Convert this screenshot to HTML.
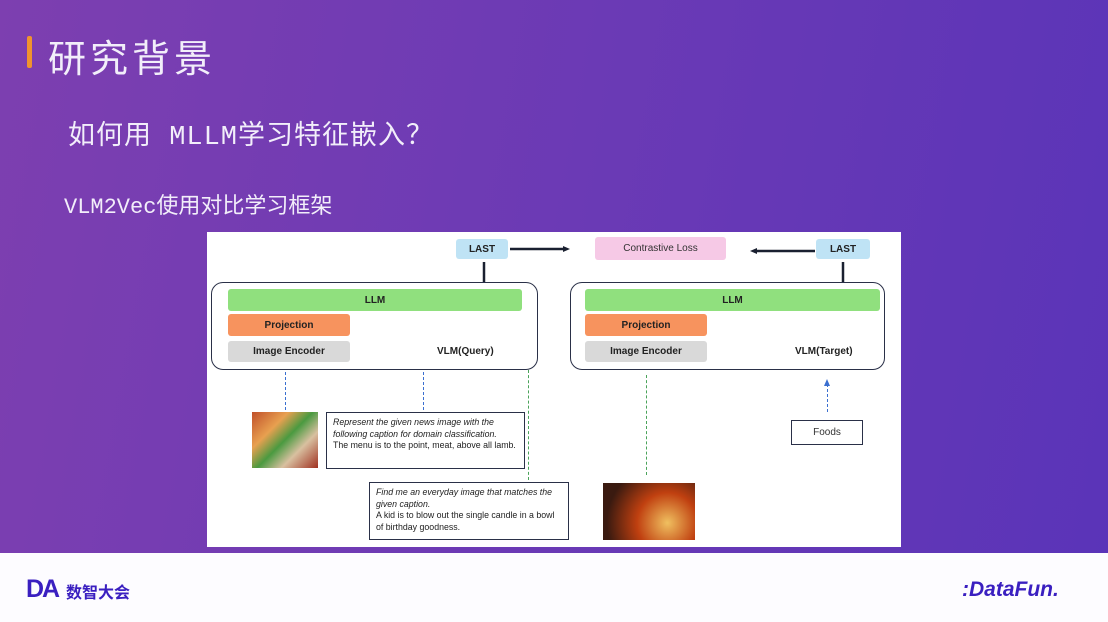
<!DOCTYPE html>
<html><head><meta charset="utf-8"><style>
*{margin:0;padding:0;box-sizing:border-box}
body{width:1108px;height:622px;overflow:hidden;position:relative;font-family:"Liberation Sans","Noto Sans CJK SC",sans-serif;background:linear-gradient(100deg,#7d3fb0 0%,#6b3ab5 50%,#5a34b8 100%)}
.a{position:absolute}
.t{color:#f2eefa;font-family:"Liberation Mono","Noto Sans CJK SC",monospace}
.lb{position:absolute;font-size:10px;font-weight:bold;color:#222;display:flex;align-items:center;justify-content:center;border-radius:3px}
.box{position:absolute;border:1.6px solid #2a3048;border-radius:12px}
.dash{position:absolute;width:0;border-left:1.5px dashed #3a6fd0}
.gd{position:absolute;width:0;border-left:1.2px dashed #4aa35a}
.tx{position:absolute;border:1.5px solid #2a3048;font-size:8.8px;line-height:11.5px;color:#222;padding:4px 6px;background:#fff}
</style></head><body>
<div class="a" style="left:27px;top:36px;width:5px;height:32px;background:#f0932e;border-radius:2px"></div>
<div class="a t" style="left:48px;top:28px;font-size:38px;font-family:'Noto Sans CJK SC',sans-serif;letter-spacing:4px">研究背景</div>
<div class="a t" style="left:68px;top:113px;font-size:27px;letter-spacing:1px">如何用 MLLM学习特征嵌入？</div>
<div class="a t" style="left:64px;top:188px;font-size:22px">VLM2Vec使用对比学习框架</div>

<div class="a" style="left:207px;top:232px;width:694px;height:315px;background:#fff"></div>
<div class="lb" style="left:456px;top:239px;width:52px;height:20px;background:#bfe3f5">LAST</div>
<div class="lb" style="left:595px;top:237px;width:131px;height:23px;background:#f6c9e6;font-weight:normal;color:#333">Contrastive Loss</div>
<div class="lb" style="left:816px;top:239px;width:54px;height:20px;background:#bfe3f5">LAST</div>
<svg class="a" style="left:0;top:0" width="1108" height="622">
<line x1="510" y1="249" x2="565" y2="249" stroke="#1a2030" stroke-width="2.5"/>
<polygon points="570,249 563,246 563,252" fill="#1a2030"/>
<line x1="815" y1="251" x2="755" y2="251" stroke="#1a2030" stroke-width="2.5"/>
<polygon points="750,251 757,248 757,254" fill="#1a2030"/>
<line x1="484" y1="262" x2="484" y2="283" stroke="#1a2030" stroke-width="2.5"/>
<line x1="843" y1="262" x2="843" y2="283" stroke="#1a2030" stroke-width="2.5"/>
<polygon points="827,379 824,386 830,386" fill="#3a6fd0"/>
</svg>
<div class="box" style="left:211px;top:282px;width:327px;height:88px"></div>
<div class="box" style="left:570px;top:282px;width:315px;height:88px"></div>
<div class="lb" style="left:228px;top:289px;width:294px;height:22px;background:#90e07e">LLM</div>
<div class="lb" style="left:228px;top:314px;width:122px;height:22px;background:#f7935e">Projection</div>
<div class="lb" style="left:228px;top:341px;width:122px;height:21px;background:#d9d9d9">Image Encoder</div>
<div class="a" style="left:437px;top:346px;font-size:10px;font-weight:bold;color:#222">VLM(Query)</div>
<div class="lb" style="left:585px;top:289px;width:295px;height:22px;background:#90e07e">LLM</div>
<div class="lb" style="left:585px;top:314px;width:122px;height:22px;background:#f7935e">Projection</div>
<div class="lb" style="left:585px;top:341px;width:122px;height:21px;background:#d9d9d9">Image Encoder</div>
<div class="a" style="left:795px;top:346px;font-size:10px;font-weight:bold;color:#222">VLM(Target)</div>

<div class="dash" style="left:285px;top:372px;height:38px"></div>
<div class="dash" style="left:423px;top:372px;height:38px"></div>
<div class="gd" style="left:528px;top:370px;height:110px"></div>
<div class="gd" style="left:646px;top:375px;height:100px"></div>
<div class="dash" style="left:827px;top:384px;height:28px"></div>

<div class="a" style="left:252px;top:412px;width:66px;height:56px;background:linear-gradient(135deg,#c0502a,#e8a050 30%,#4a9a40 50%,#d8c0a0 70%,#a03020)"></div>
<div class="tx" style="left:326px;top:412px;width:199px;height:57px;font-style:italic">Represent the given news image with the following caption for domain classification.<br><span style="font-style:normal">The menu is to the point, meat, above all lamb.</span></div>
<div class="tx" style="left:369px;top:482px;width:200px;height:58px"><i>Find me an everyday image that matches the given caption.</i><br>A kid is to blow out the single candle in a bowl of birthday goodness.</div>
<div class="a" style="left:603px;top:483px;width:92px;height:57px;background:radial-gradient(circle at 70% 70%,#f0c060,#c04010 40%,#3a1a10 80%)"></div>
<div class="a" style="left:791px;top:420px;width:72px;height:25px;border:1.5px solid #2a3048;font-size:10px;color:#333;display:flex;align-items:center;justify-content:center">Foods</div>

<div class="a" style="left:0;top:553px;width:1108px;height:69px;background:#fdfcff"></div>
<div class="a" style="left:26px;top:575px;font-size:25px;font-weight:bold;color:#3a1fc0;letter-spacing:-2px">DA</div>
<div class="a" style="left:66px;top:579px;font-size:16px;font-weight:bold;color:#3a1fc0;font-family:'Noto Sans CJK SC',sans-serif">数智大会</div>
<div class="a" style="left:962px;top:578px;font-size:21px;font-weight:bold;font-style:italic;color:#3a1fc0">:DataFun.</div>
</body></html>
